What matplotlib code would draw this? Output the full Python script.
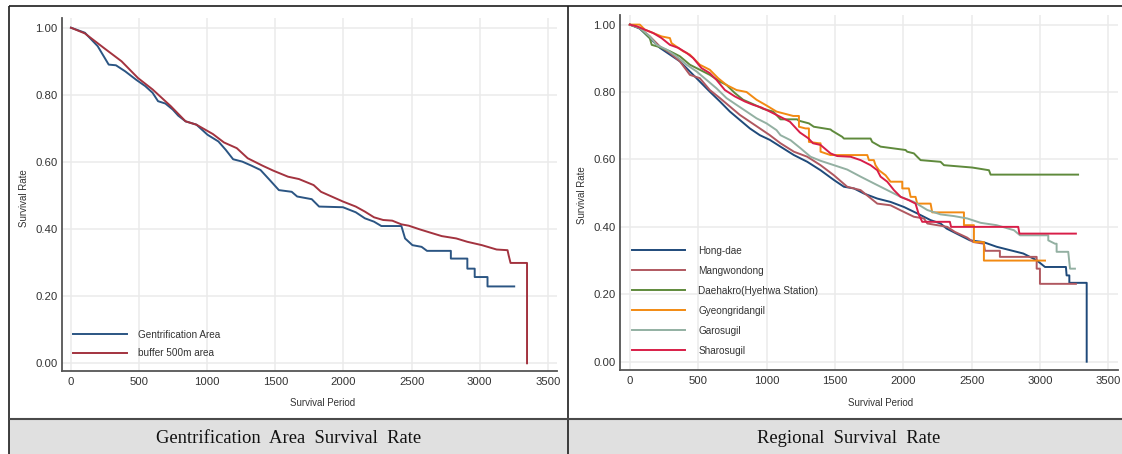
import matplotlib
matplotlib.use("Agg")
import matplotlib.pyplot as plt
from matplotlib.patches import Rectangle

# ---------------- data ----------------
# Left panel: Gentrification Area vs buffer 500m area
gent_t = [0, 102, 196, 277, 330, 398, 478, 545, 599, 639, 693, 747, 787, 841, 921,
          1002, 1082, 1136, 1190, 1257, 1324, 1391, 1459, 1526, 1620, 1660, 1767, 1821,
          1996, 2090, 2157, 2224, 2278, 2425, 2452, 2506, 2573, 2613, 2788, 2788, 2909,
          2909, 2963, 2963, 3057, 3057, 3253]
gent_s = [1.0, 0.985, 0.945, 0.89, 0.888, 0.87, 0.845, 0.826, 0.806, 0.781, 0.774, 0.756,
          0.738, 0.721, 0.711, 0.681, 0.661, 0.636, 0.608, 0.601, 0.589, 0.576, 0.546,
          0.516, 0.511, 0.497, 0.489, 0.467, 0.465, 0.45, 0.432, 0.422, 0.409, 0.409,
          0.372, 0.352, 0.347, 0.335, 0.335, 0.312, 0.312, 0.282, 0.282, 0.257, 0.257,
          0.229, 0.229]

buf_t = [0, 102, 250, 371, 492, 599, 733, 841, 921, 1042, 1123, 1217, 1297, 1405, 1485,
         1593, 1673, 1781, 1835, 1996, 2090, 2157, 2224, 2291, 2358, 2425, 2479, 2560,
         2640, 2721, 2828, 2909, 3016, 3124, 3204, 3212, 3226, 3347, 3347]
buf_s = [1.0, 0.983, 0.937, 0.9, 0.85, 0.816, 0.766, 0.721, 0.711, 0.683, 0.658, 0.641,
         0.611, 0.589, 0.574, 0.556, 0.549, 0.531, 0.511, 0.482, 0.467, 0.452, 0.435,
         0.427, 0.425, 0.414, 0.41, 0.399, 0.389, 0.379, 0.372, 0.362, 0.352, 0.339,
         0.337, 0.322, 0.299, 0.299, 0.0]

left_labels = ["Gentrification Area", "buffer 500m area"]

# Right panel: regions
hong_t = [0, 73, 146, 220, 293, 366, 439, 512, 585, 659, 732, 805, 878, 951, 1024, 1102,
          1200, 1298, 1395, 1493, 1566, 1639, 1712, 1810, 1907, 2005, 2102, 2200, 2273,
          2317, 2390, 2488, 2585, 2683, 2780, 2878, 2976, 3037, 3190, 3195, 3215, 3215,
          3342, 3342]
hong_s = [1.0, 0.988, 0.96, 0.931, 0.911, 0.891, 0.861, 0.831, 0.801, 0.772, 0.742, 0.717,
          0.692, 0.672, 0.658, 0.638, 0.613, 0.593, 0.568, 0.539, 0.519, 0.514, 0.499,
          0.484, 0.474, 0.459, 0.44, 0.42, 0.41, 0.395, 0.38, 0.36, 0.355, 0.341, 0.331,
          0.321, 0.301, 0.281, 0.281, 0.256, 0.256, 0.234, 0.234, 0.0]

mang_t = [0, 73, 146, 220, 293, 366, 439, 512, 585, 659, 732, 805, 878, 951, 1024, 1102,
          1200, 1298, 1395, 1493, 1590, 1688, 1810, 1907, 1981, 2078, 2151, 2176, 2322,
          2378, 2468, 2512, 2590, 2598, 2707, 2707, 2976, 2976, 3000, 3000, 3263]
mang_s = [1.0, 0.99, 0.965, 0.935, 0.916, 0.891, 0.851, 0.841, 0.806, 0.782, 0.757, 0.732,
          0.712, 0.692, 0.672, 0.648, 0.623, 0.608, 0.583, 0.553, 0.519, 0.509, 0.469,
          0.464, 0.449, 0.43, 0.425, 0.41, 0.4, 0.385, 0.368, 0.355, 0.35, 0.329, 0.329,
          0.311, 0.311, 0.276, 0.276, 0.231, 0.231]

daeh_t = [0, 73, 146, 160, 220, 293, 366, 439, 512, 585, 659, 707, 768, 829, 902, 976,
          1049, 1102, 1224, 1236, 1310, 1346, 1468, 1480, 1554, 1566, 1761, 1773, 1834,
          2017, 2029, 2078, 2102, 2127, 2273, 2298, 2505, 2627, 2639, 3279]
daeh_s = [1.0, 0.99, 0.96, 0.94, 0.933, 0.921, 0.906, 0.881, 0.866, 0.851, 0.831, 0.821,
          0.797, 0.777, 0.764, 0.75, 0.742, 0.719, 0.719, 0.715, 0.707, 0.697, 0.689,
          0.685, 0.667, 0.662, 0.662, 0.652, 0.638, 0.628, 0.623, 0.618, 0.608, 0.598,
          0.593, 0.583, 0.576, 0.568, 0.555, 0.555]

gyeo_t = [0, 73, 110, 171, 232, 293, 305, 390, 439, 512, 585, 646, 707, 780, 854, 927,
          1000, 1073, 1195, 1237, 1237, 1285, 1310, 1310, 1383, 1395, 1395, 1468, 1737,
          1749, 1785, 1797, 1822, 1871, 1907, 1993, 1993, 2041, 2054, 2090, 2102, 2200,
          2212, 2444, 2444, 2517, 2517, 2590, 2590, 3037]
gyeo_s = [1.0, 1.0, 0.985, 0.975, 0.965, 0.96, 0.945, 0.921, 0.911, 0.881, 0.866, 0.841,
          0.821, 0.806, 0.8, 0.777, 0.76, 0.742, 0.729, 0.729, 0.697, 0.692, 0.692, 0.652,
          0.648, 0.648, 0.623, 0.613, 0.613, 0.598, 0.598, 0.583, 0.568, 0.553, 0.534,
          0.534, 0.514, 0.514, 0.489, 0.489, 0.469, 0.469, 0.443, 0.443, 0.405, 0.405,
          0.355, 0.355, 0.30, 0.30]

garo_t = [0, 73, 146, 195, 268, 341, 415, 488, 561, 634, 707, 780, 854, 927, 1000, 1073,
          1102, 1176, 1249, 1322, 1395, 1493, 1590, 1688, 1785, 1883, 1981, 2078, 2176,
          2273, 2371, 2468, 2566, 2683, 2810, 2854, 3061, 3061, 3110, 3122, 3122, 3207,
          3220, 3256]
garo_s = [1.0, 0.99, 0.965, 0.94, 0.926, 0.906, 0.881, 0.861, 0.836, 0.811, 0.782, 0.762,
          0.742, 0.722, 0.707, 0.687, 0.672, 0.657, 0.633, 0.608, 0.596, 0.583, 0.57,
          0.549, 0.529, 0.509, 0.489, 0.474, 0.45, 0.437, 0.432, 0.425, 0.412, 0.405,
          0.39, 0.375, 0.375, 0.36, 0.35, 0.35, 0.326, 0.326, 0.276, 0.276]

sharo_t = [0, 49, 110, 171, 232, 293, 354, 415, 463, 524, 585, 634, 695, 768, 841, 902,
           963, 1024, 1098, 1171, 1244, 1305, 1340, 1395, 1468, 1517, 1615, 1688, 1761,
           1810, 1834, 1883, 1932, 1981, 2041, 2090, 2115, 2139, 2341, 2350, 2841, 2850,
           3263]
sharo_s = [1.0, 0.995, 0.985, 0.975, 0.96, 0.94, 0.931, 0.916, 0.901, 0.871, 0.856, 0.836,
           0.806, 0.787, 0.772, 0.762, 0.754, 0.742, 0.727, 0.712, 0.68, 0.663, 0.648,
           0.643, 0.618, 0.61, 0.608, 0.598, 0.583, 0.568, 0.549, 0.534, 0.509, 0.489,
           0.479, 0.469, 0.435, 0.415, 0.415, 0.40, 0.40, 0.38, 0.38]

right_labels = ["Hong-dae", "Mangwondong", "Daehakro(Hyehwa Station)", "Gyeongridangil",
                "Garosugil", "Sharosugil"]

x_ticks = [0, 500, 1000, 1500, 2000, 2500, 3000, 3500]
y_ticks = [0.0, 0.2, 0.4, 0.6, 0.8, 1.0]
x_label = "Survival Period"
y_label = "Survival Rate"
captions = ["Gentrification  Area  Survival  Rate", "Regional  Survival  Rate"]

# ---------------- layout ----------------
W, H = 1122, 454
fig = plt.figure(figsize=(W / 100, H / 100), dpi=100)
SANS = ["Liberation Sans", "DejaVu Sans"]


def frect(x0, y0, x1, y1):
    return [x0 / W, 1 - y1 / H, (x1 - x0) / W, (y1 - y0) / H]


bg = fig.add_axes([0, 0, 1, 1], zorder=0)
bg.set_xlim(0, W)
bg.set_ylim(H, 0)
bg.axis("off")

# table frame
bg.add_patch(Rectangle((9, 418.5), W - 9, 40, facecolor="#e0e0e0", edgecolor="none"))
bg.plot([9, W], [6, 6], color="#1e1e1e", lw=1.2, solid_capstyle="butt")
bg.plot([9, 9], [6, H], color="#1e1e1e", lw=1.2, solid_capstyle="butt")
bg.plot([568.5, 568.5], [6, H], color="#1e1e1e", lw=1.2, solid_capstyle="butt")
bg.plot([9, W], [418.5, 418.5], color="#4a4a4a", lw=1.5, solid_capstyle="butt")

bg.text(288.3, 443.3, captions[0], ha="center", va="baseline",
        family=["Liberation Serif", "DejaVu Serif"], fontsize=13.4, color="#111111")
bg.text(848.4, 443.3, captions[1], ha="center", va="baseline",
        family=["Liberation Serif", "DejaVu Serif"], fontsize=13.4, color="#111111")


def setup(ax, box, xlim, ylim, xlab_px, ylab_px):
    ax.set_xlim(*xlim)
    ax.set_ylim(*ylim)
    ax.set_facecolor("none")
    ax.set_xticks(x_ticks)
    ax.set_yticks(y_ticks)
    ax.set_yticklabels([f"{v:.2f}" for v in y_ticks])
    ax.grid(True, color="#ebebeb", lw=1.1)
    ax.set_axisbelow(True)
    for s in ["top", "right"]:
        ax.spines[s].set_visible(False)
    for s in ["left", "bottom"]:
        ax.spines[s].set_color("#555555")
        ax.spines[s].set_linewidth(1.3)
    ax.tick_params(length=0, labelsize=8.2, colors="#333333")
    ax.tick_params(axis="x", pad=4.5)
    ax.tick_params(axis="y", pad=3)
    for lab in ax.get_xticklabels() + ax.get_yticklabels():
        lab.set_family(SANS)
    x0, y0, x1, y1 = box
    ax.set_xlabel(x_label, fontsize=7, color="#333333", family=SANS)
    ax.set_ylabel(y_label, fontsize=7, color="#333333", family=SANS)
    ax.xaxis.label.set_va("center")
    ax.yaxis.label.set_va("center")
    ax.xaxis.set_label_coords((xlab_px[0] - x0) / (x1 - x0), (y1 - xlab_px[1]) / (y1 - y0))
    ax.yaxis.set_label_coords((ylab_px[0] - x0) / (x1 - x0), (y1 - ylab_px[1]) / (y1 - y0))


# Left panel
boxL = (61.7, 18.3, 557, 371)
axL = fig.add_axes(frect(*boxL), zorder=2)
setup(axL, boxL, (-68, 3567), (-0.023, 1.028), (322.9, 403), (23.7, 198.3))
axL.plot(gent_t, gent_s, color="#2b5583", lw=1.4, label=left_labels[0])
axL.plot(buf_t, buf_s, color="#a3333f", lw=1.4, label=left_labels[1])
legL = axL.legend(loc="upper left",
                  bbox_to_anchor=((73 - boxL[0]) / (boxL[2] - boxL[0]),
                                  (boxL[3] - 329.6) / (boxL[3] - boxL[1])),
                  frameon=False, borderpad=0, borderaxespad=0, handlelength=5.4,
                  handletextpad=1.1, labelspacing=0.88,
                  prop={"family": SANS, "size": 7.2})
for t in legL.get_texts():
    t.set_color("#333333")

# Right panel
boxR = (620, 15, 1118, 370)
axR = fig.add_axes(frect(*boxR), zorder=2)
setup(axR, boxR, (-72, 3571), (-0.0246, 1.0285), (881, 403.3), (582.3, 195.5))
series = [(hong_t, hong_s, "#1f4a7a"), (mang_t, mang_s, "#b05860"),
          (daeh_t, daeh_s, "#5f8a3c"), (gyeo_t, gyeo_s, "#f28a12"),
          (garo_t, garo_s, "#93b0a2"), (sharo_t, sharo_s, "#d81e48")]
for (tt, ss, c), lab in zip(series, right_labels):
    axR.plot(tt, ss, color=c, lw=1.4, label=lab)
legR = axR.legend(loc="upper left",
                  bbox_to_anchor=((632.3 - boxR[0]) / (boxR[2] - boxR[0]),
                                  (boxR[3] - 245.5) / (boxR[3] - boxR[1])),
                  frameon=False, borderpad=0, borderaxespad=0, handlelength=5.3,
                  handletextpad=1.3, labelspacing=1.0,
                  prop={"family": SANS, "size": 7.2})
for t in legR.get_texts():
    t.set_color("#333333")

fig.savefig("out.png", dpi=100)
